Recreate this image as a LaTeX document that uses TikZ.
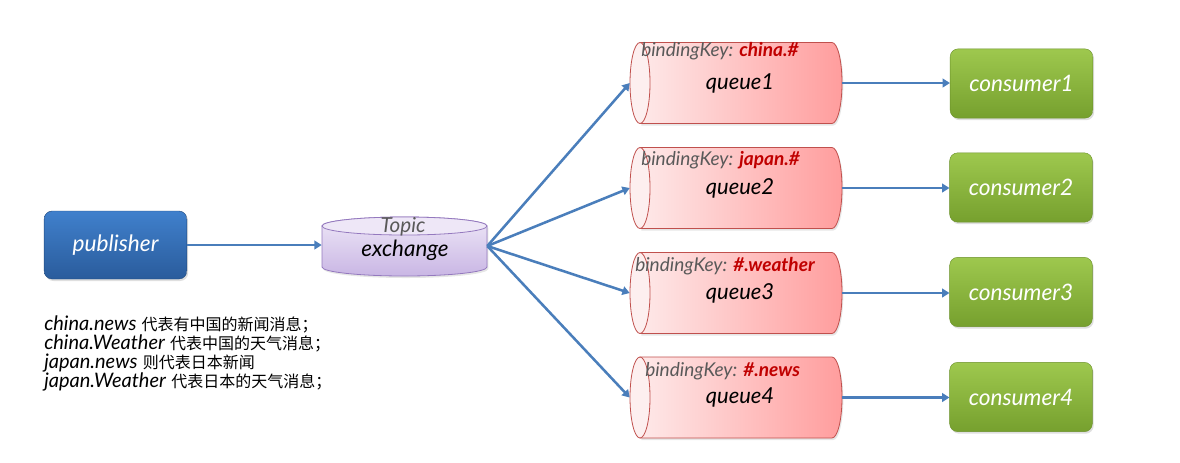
\documentclass[tikz,border=0pt]{standalone}
\usepackage{fontspec}
\setmainfont{Lato}
\newfontfamily\cjk{Noto Sans CJK SC}
\usetikzlibrary{shadows,arrows.meta}
\definecolor{arrowc}{HTML}{4A7EBB}
\definecolor{pubtop}{HTML}{4080CC}
\definecolor{pubbot}{HTML}{2A5C9C}
\definecolor{extop}{HTML}{EEE7F7}
\definecolor{exbot}{HTML}{C9B6E4}
\definecolor{exborder}{HTML}{9479BE}
\definecolor{qleft}{HTML}{FEE9E9}
\definecolor{qright}{HTML}{FF9D9D}
\definecolor{qborder}{HTML}{C0504D}
\definecolor{qface}{HTML}{FDEFEF}
\definecolor{keyred}{HTML}{C00000}
\definecolor{greytxt}{HTML}{595959}
\definecolor{ctop}{HTML}{9EC84E}
\definecolor{cbot}{HTML}{76A02E}
\tikzset{
  arr/.style={draw=arrowc, line width=1.9pt, -{Triangle[length=5.5pt,width=6.5pt]}},
  pubbox/.style={rounded corners=6pt, top color=pubtop, bottom color=pubbot, draw=pubbot!80!black, line width=0.3pt,
    minimum width=107pt, minimum height=51pt, text=white, font=\itshape\fontsize{17}{20}\selectfont,
    drop shadow={opacity=0.25, shadow xshift=1pt, shadow yshift=-1.5pt}},
  conbox/.style={rounded corners=6pt, top color=ctop, bottom color=cbot, draw=cbot!90!black, line width=0.3pt,
    minimum width=107pt, minimum height=52pt, text=white, font=\itshape\fontsize{17}{20}\selectfont,
    drop shadow={opacity=0.25, shadow xshift=1pt, shadow yshift=-1.5pt}},
  anchorbox/.style={inner sep=0pt, draw=none},
  qbody/.style={draw=qborder, line width=0.6pt, left color=qleft, right color=qright},
  qend/.style={draw=qborder, line width=0.6pt, fill=qface},
  qlabel/.style={font=\itshape\fontsize{16.5}{19}\selectfont, text=black},
  keylabel/.style={font=\itshape\fontsize{14.3}{16}\selectfont, text=greytxt, inner sep=0pt, anchor=west},
  exbody/.style={draw=exborder, line width=0.6pt, top color=extop, bottom color=exbot},
  exface/.style={draw=exborder, line width=0.6pt, fill=extop},
}
\begin{document}
\begin{tikzpicture}[x=0.75pt,y=0.75pt]
\useasboundingbox (0,0) rectangle (1180,-462);

% publisher
\node[pubbox] (pub) at (115.5,-245) {publisher};

% exchange cylinder
\path[exbody, drop shadow={opacity=0.2, shadow xshift=1pt, shadow yshift=-1.5pt}]
  (322,-226) -- (322,-267) arc[start angle=180,end angle=360,x radius=82.5,y radius=9]
  -- (487,-226) arc[start angle=0,end angle=180,x radius=82.5,y radius=9] -- cycle;
\path[exface] (404.5,-226) ellipse [x radius=82.5, y radius=9];
\node[anchorbox, minimum width=123.75pt, minimum height=45pt] (ex) at (404.5,-246) {};
\node[font=\itshape\fontsize{15.5}{17}\selectfont, text=greytxt] (topic) at (403,-227) {Topic};
\node[font=\itshape\fontsize{16.8}{19}\selectfont] (exl) at (405,-250) {exchange};

\draw[arr] (pub.east) -- (pub.east -| ex.west);

% queues
\foreach \i/\cy/\key/\kx/\ky in {1/83/china.\#/641/32, 2/188/japan.\#/641/28, 3/293/\#.weather/635/27, 4/397.5/\#.news/645/26}{
  \begin{scope}[shift={(0,-\cy)}]
    \path[qbody, drop shadow={opacity=0.2, shadow xshift=1pt, shadow yshift=-1.5pt}]
      (640,40.5) -- (832,40.5) arc[start angle=90,end angle=-90,x radius=10,y radius=40.5]
      -- (640,-40.5) -- cycle;
    \path[qend] (640,0) ellipse [x radius=10, y radius=40.5];
    \node[anchorbox, minimum width=159pt, minimum height=60.75pt] (q\i) at (736,0) {};
    \node[qlabel] (ql\i) at (740,0) {queue\i};
    \node[keylabel] (k\i) at (\kx,\ky) {bindingKey: \textcolor{keyred}{\bfseries\key}};
  \end{scope}
  \draw[arr] (ex.east) -- (q\i.west);
}

% consumers
\node[conbox] (c1) at (1021.5,-83.5) {consumer1};
\node[conbox] (c2) at (1021,-187.5) {consumer2};
\node[conbox] (c3) at (1021,-292) {consumer3};
\node[conbox] (c4) at (1021,-397) {consumer4};
\foreach \i in {1,2,3,4}{
  \draw[arr] (q\i.east) -- (q\i.east -| c\i.west);
}

% description text
\node[anchor=north west, align=left, inner sep=0pt, font=\fontsize{15}{14.25}\selectfont] (desc) at (44,-315) {%
\textit{china.news} {\cjk\fontsize{12}{14.25}\selectfont 代表有中国的新闻消息；}\\
\textit{china.Weather} {\cjk\fontsize{12}{14.25}\selectfont 代表中国的天气消息；}\\
\textit{japan.news} {\cjk\fontsize{12}{14.25}\selectfont 则代表日本新闻}\\
\textit{japan.Weather} {\cjk\fontsize{12}{14.25}\selectfont 代表日本的天气消息；}};
\end{tikzpicture}
\end{document}
